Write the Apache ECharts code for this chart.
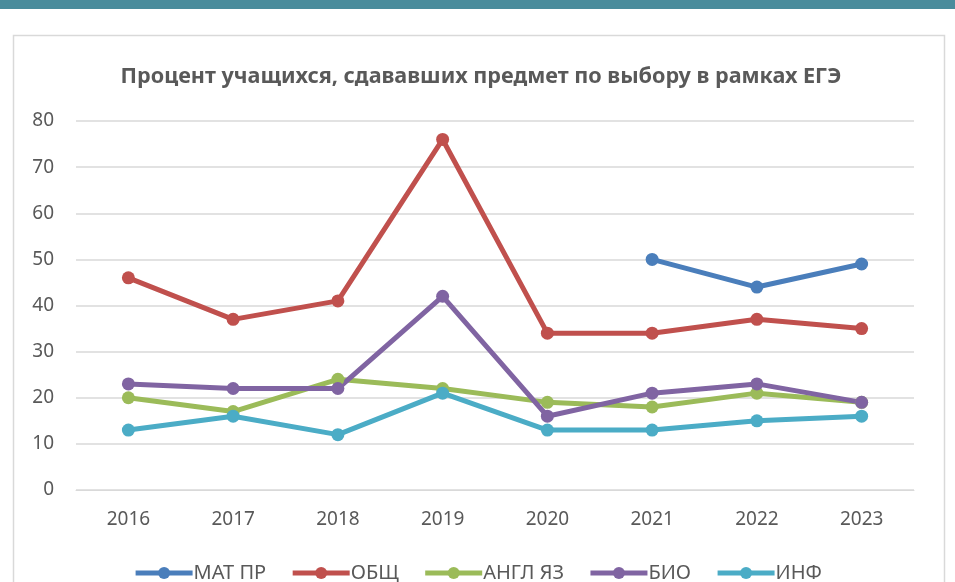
<!DOCTYPE html>
<html>
<head>
<meta charset="utf-8">
<script src="https://cdn.jsdelivr.net/npm/echarts@6/dist/echarts.min.js"></script>
<style>
  html, body { margin: 0; padding: 0; background: #fff; }
  #chart { width: 955px; height: 582px; }
</style>
</head>
<body>
<div id="chart"></div>
<script>
const years = ['2016', '2017', '2018', '2019', '2020', '2021', '2022', '2023'];
const matPr = [null, null, null, null, null, 50, 44, 49];
const obsh = [46, 37, 41, 76, 34, 34, 37, 35];
const anglYaz = [20, 17, 24, 22, 19, 18, 21, 19];
const bio = [23, 22, 22, 42, 16, 21, 23, 19];
const inf = [13, 16, 12, 21, 13, 13, 15, 16];
const seriesNames = ['МАТ ПР', 'ОБЩ', 'АНГЛ ЯЗ', 'БИО', 'ИНФ'];
const colors = ['#4a7ebb', '#c0504d', '#9bbb59', '#8064a2', '#4bacc6'];

const myChart = echarts.init(document.getElementById('chart'));

function lineSeries(name, data, color) {
  return {
    name: name,
    type: 'line',
    data: data,
    symbol: 'circle',
    symbolSize: 13,
    connectNulls: false,
    itemStyle: { color: color },
    lineStyle: { color: color, width: 5 },
    z: 3
  };
}

const option = {
  animation: false,
  color: colors,
  textStyle: { fontFamily: 'Noto Sans' },
  graphic: [
    {
      type: 'rect',
      shape: { x: 0, y: 0, width: 955, height: 9 },
      style: { fill: '#4a8c9c' },
      silent: true
    },
    {
      type: 'rect',
      shape: { x: 13.5, y: 35.5, width: 931, height: 560 },
      style: { fill: '#fff', stroke: '#d9d9d9', lineWidth: 1.5 },
      silent: true,
      z: -10
    }
  ],
  title: {
    text: 'Процент учащихся, сдававших предмет по выбору в рамках ЕГЭ',
    left: 476,
    textAlign: 'center',
    top: 61,
    textStyle: { fontSize: 21.6, fontWeight: 'bold', color: '#595959', fontFamily: 'Noto Sans' }
  },
  legend: {
    data: seriesNames,
    left: 'center',
    top: 558,
    itemWidth: 57,
    itemHeight: 15,
    itemGap: 24,
    lineStyle: { width: 5 },
    textStyle: { fontSize: 20, color: '#595959', padding: [0, 0, 0, -4] }
  },
  grid: {
    left: 76,
    right: 41,
    top: 121,
    bottom: 92,
    containLabel: false
  },
  xAxis: {
    type: 'category',
    data: years,
    axisLine: { show: true, lineStyle: { color: '#d9d9d9', width: 1 } },
    axisTick: { show: false },
    axisLabel: { color: '#595959', fontSize: 19, margin: 20 }
  },
  yAxis: {
    type: 'value',
    min: 0,
    max: 80,
    interval: 10,
    axisLine: { show: false },
    axisTick: { show: false },
    axisLabel: { color: '#595959', fontSize: 19, margin: 22 },
    splitLine: { lineStyle: { color: '#d9d9d9', width: 1.5 } }
  },
  series: [
    lineSeries(seriesNames[0], matPr, colors[0]),
    lineSeries(seriesNames[1], obsh, colors[1]),
    lineSeries(seriesNames[2], anglYaz, colors[2]),
    lineSeries(seriesNames[3], bio, colors[3]),
    lineSeries(seriesNames[4], inf, colors[4])
  ]
};

myChart.setOption(option);
</script>
</body>
</html>
